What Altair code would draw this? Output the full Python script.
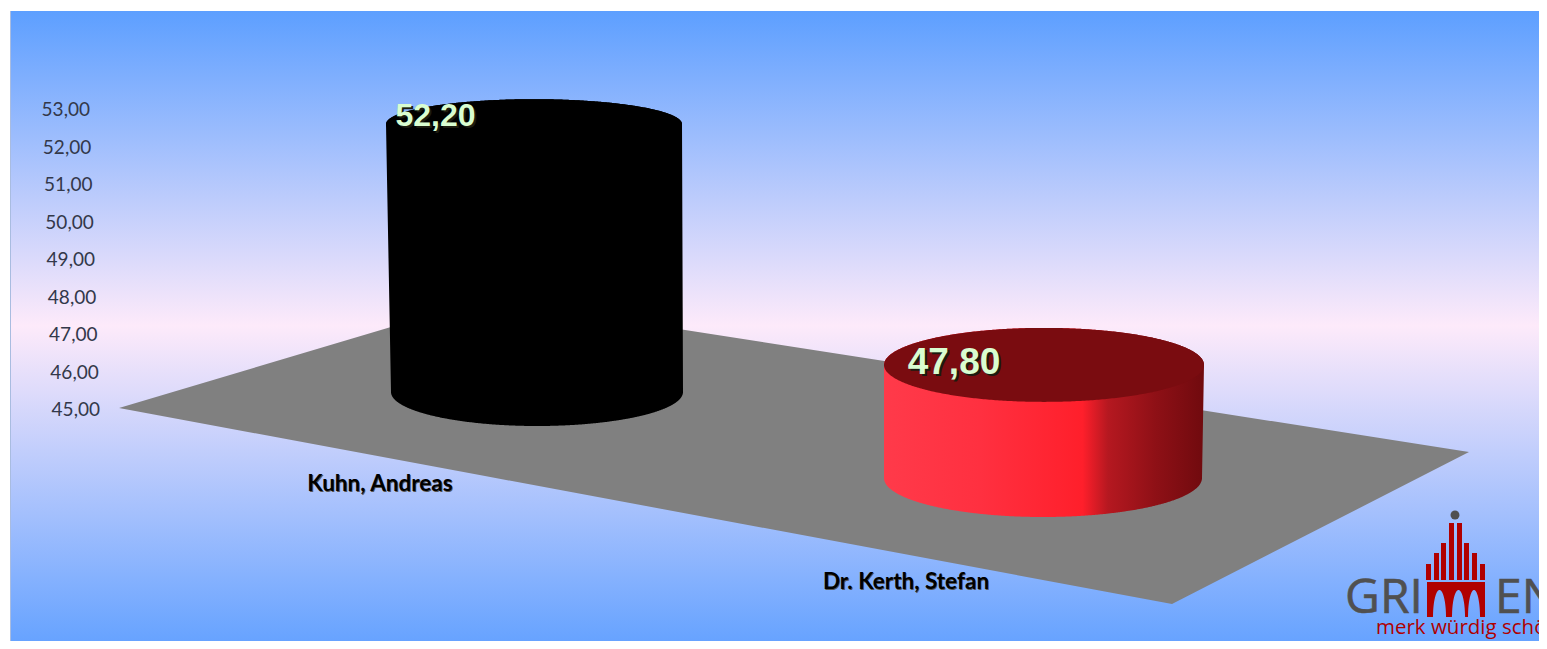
import numpy as np
import pandas as pd
import altair as alt

# ---- chart values
names = ["Kuhn, Andreas", "Dr. Kerth, Stefan"]
values = [52.20, 47.80]
value_labels = ["52,20", "47,80"]
tick_values = [45, 46, 47, 48, 49, 50, 51, 52, 53]
tick_labels = ["45,00", "46,00", "47,00", "48,00", "49,00", "50,00", "51,00", "52,00", "53,00"]

# ---- layout (page pixels)
LEFT, RIGHT, TOP, BOTTOM = 10, 1539, 11, 641
PX_PER_UNIT = 37.5
AXIS_ZERO_PX = 409


def v(py):
    """page pixel row -> value on the y scale"""
    return 45 + (AXIS_ZERO_PX - np.asarray(py, dtype=float)) / PX_PER_UNIT


xscale = alt.Scale(domain=[LEFT, RIGHT], range=[0, RIGHT - LEFT], nice=False, zero=False)
yscale = alt.Scale(domain=[float(v(BOTTOM)), float(v(TOP))], range=[BOTTOM - TOP, 0], nice=False, zero=False)


def X(f="x"):
    return alt.X(f"{f}:Q", scale=xscale, axis=None)


def Y(f="y"):
    return alt.Y(f"{f}:Q", scale=yscale, axis=None)


def grad(stops, vertical=False):
    return alt.LinearGradient(
        gradient="linear",
        stops=[alt.GradientStop(color=c, offset=o) for o, c in stops],
        x1=0, y1=0, x2=0 if vertical else 1, y2=1 if vertical else 0,
    )


def area(xs, up, lo, color):
    df = pd.DataFrame({"x": xs, "y": v(up), "y2": v(lo)})
    return alt.Chart(df).mark_area(orient="vertical", color=color, opacity=1).encode(
        x=X(), y=Y(), y2=alt.Y2("y2:Q")
    )


def box(x0, x1, y0, y1, color):
    df = pd.DataFrame({"x": [x0], "x2": [x1], "y": [float(v(y0))], "y2": [float(v(y1))]})
    return alt.Chart(df).mark_rect(color=color).encode(
        x=X(), x2=alt.X2("x2:Q"), y=Y(), y2=alt.Y2("y2:Q")
    )


def text(s, x, y, size, color, font, weight="normal", align="center", **kw):
    df = pd.DataFrame({"x": [x], "y": [float(v(y))], "t": [s]})
    return alt.Chart(df).mark_text(
        fontSize=size, color=color, font=font, fontWeight=weight, align=align, baseline="middle", **kw
    ).encode(x=X(), y=Y(), text="t:N")


# ---- background
background = box(LEFT, RIGHT, TOP, BOTTOM,
                 grad([(0, "#5d9fff"), (0.5, "#fdeafa"), (1, "#67a3ff")], vertical=True))
left_edge = box(LEFT, LEFT + 1, TOP, BOTTOM, "#a9bce0")

# ---- value-axis labels (they lean with the chart's 3D wall)
tick_df = pd.DataFrame({
    "y": tick_values, "t": tick_labels,
    "x": [100 - (t - 45) * 1.25 for t in tick_values],
})
ticks = alt.Chart(tick_df).mark_text(
    fontSize=19, font="Lato", color="#33384a", align="right", baseline="middle", dy=1
).encode(x=X(), y=Y(), text="t:N")

# ---- floor
fx = [119, 485, 1172, 1469]
floor = area(fx, [408, 299, 405.5, 452], [408, 476, 604, 452], "#808080")


# ---- cylinders
def cylinder(value, top_ell, bot_ell, unit, body_color, top_color):
    tl, tr, ry_t = top_ell
    bl, br, base, ry_b = bot_ell
    top_cy = base - (value - 45) * unit
    lo_x, hi_x = min(tl, bl), max(tr, br)
    t = np.linspace(0, np.pi, 240)
    xs = np.unique(np.concatenate([
        (lo_x + hi_x) / 2 - (hi_x - lo_x) / 2 * np.cos(t),
        (tl + tr) / 2 - (tr - tl) / 2 * np.cos(t),
        (bl + br) / 2 - (br - bl) / 2 * np.cos(t),
    ]))

    def half(x, a, b, cy, ry, sign):
        c, w = (a + b) / 2, (b - a) / 2
        return cy + sign * ry * np.sqrt(np.clip(1 - ((x - c) / w) ** 2, 0, 1))

    up = half(xs, tl, tr, top_cy, ry_t, -1)
    lo = half(xs, bl, br, base, ry_b, 1)
    # slanted side edges where the two ellipses differ in extent
    if bl > tl:
        m = xs < bl
        lo[m] = top_cy + (xs[m] - tl) / (bl - tl) * (base - top_cy)
    if br < tr:
        m = xs > br
        lo[m] = base + (xs[m] - br) / (tr - br) * (top_cy - base)
    if tl > bl:
        m = xs < tl
        up[m] = base + (xs[m] - bl) / (tl - bl) * (top_cy - base)
    if tr < br:
        m = xs > tr
        up[m] = top_cy + (xs[m] - tr) / (br - tr) * (base - top_cy)
    body = area(xs, up, lo, body_color)
    tx = np.unique((tl + tr) / 2 - (tr - tl) / 2 * np.cos(t))
    cap = area(tx, half(tx, tl, tr, top_cy, ry_t, -1), half(tx, tl, tr, top_cy, ry_t, 1), top_color)
    return body + cap


red_body = grad([(0, "#ff3a4a"), (0.3, "#ff3040"), (0.62, "#ff1f2b"),
                 (0.7, "#b51820"), (0.85, "#8e1016"), (1, "#700a0e")])
cyl_black = cylinder(values[0], (386, 682, 25), (391, 683, 392, 34), 37.2, "#000000", "#000000")
cyl_red = cylinder(values[1], (884, 1204, 37), (884, 1202, 478, 39), 40.4, red_body, "#7a0c10")

# ---- labels
LABEL_FONT = "Lato"
name_layers = []
for s, x, y in zip(names, [380, 906], [484, 582]):
    name_layers.append(text(s, x + 0.8, y + 0.8, 22.5, "#555555", LABEL_FONT, "bold"))
    name_layers.append(text(s, x, y, 22.5, "#000000", LABEL_FONT, "bold"))

value_layers = []
for s, x, y, fs in zip(value_labels, [435.5, 954], [116, 363], [32, 37]):
    value_layers.append(text(s, x + 2, y + 2, fs, "#1c1c10", "Liberation Sans", "bold"))
    value_layers.append(text(s, x, y, fs, "#d9fdd0", "Liberation Sans", "bold"))

# ---- logo
GREY, RED = "#505050", "#b00000"
bar_x = [(1426, 1431), (1434, 1439), (1441, 1446), (1449, 1454),
         (1457, 1462), (1464, 1469), (1472, 1477), (1480, 1485)]
bar_top = [564, 553, 543, 523, 523, 543, 553, 564]
logo = [box(a, b, t, 580, RED) for (a, b), t in zip(bar_x, bar_top)]

ax = np.linspace(1427, 1485, 400)
arch_lo = np.full_like(ax, 617.0)
for a, b in [(1433, 1446), (1452, 1465), (1468, 1480)]:
    c, w = (a + b) / 2, (b - a) / 2
    m = np.abs(ax - c) < w
    arch_lo[m] = 617 - 27 * np.sqrt(1 - ((ax[m] - c) / w) ** 2)
logo.append(area(ax, np.full_like(ax, 582.0), arch_lo, RED))
logo.append(alt.Chart(pd.DataFrame({"x": [1455], "y": [float(v(515))]})).mark_point(
    filled=True, size=80, color=GREY, opacity=1).encode(x=X(), y=Y()))
logo.append(text("GRI", 1345, 599, 48, GREY, "Open Sans", align="left", stroke=GREY, strokeWidth=0.6))
logo.append(text("EN", 1495, 599, 48, GREY, "Open Sans", align="left", stroke=GREY, strokeWidth=0.6))
logo.append(text("merk würdig schön", 1376, 628, 20.5, RED, "Open Sans", align="left"))

chart = alt.layer(
    background, left_edge, floor, ticks, cyl_black, cyl_red,
    *name_layers, *value_layers, *logo
).properties(
    width=RIGHT - LEFT, height=BOTTOM - TOP,
    autosize=alt.AutoSizeParams(type="none"),
    padding={"left": 2, "top": 3, "right": 0, "bottom": 0},
).configure_view(stroke=None)

chart.save("out.html", embed_options={"renderer": "svg", "actions": False})
